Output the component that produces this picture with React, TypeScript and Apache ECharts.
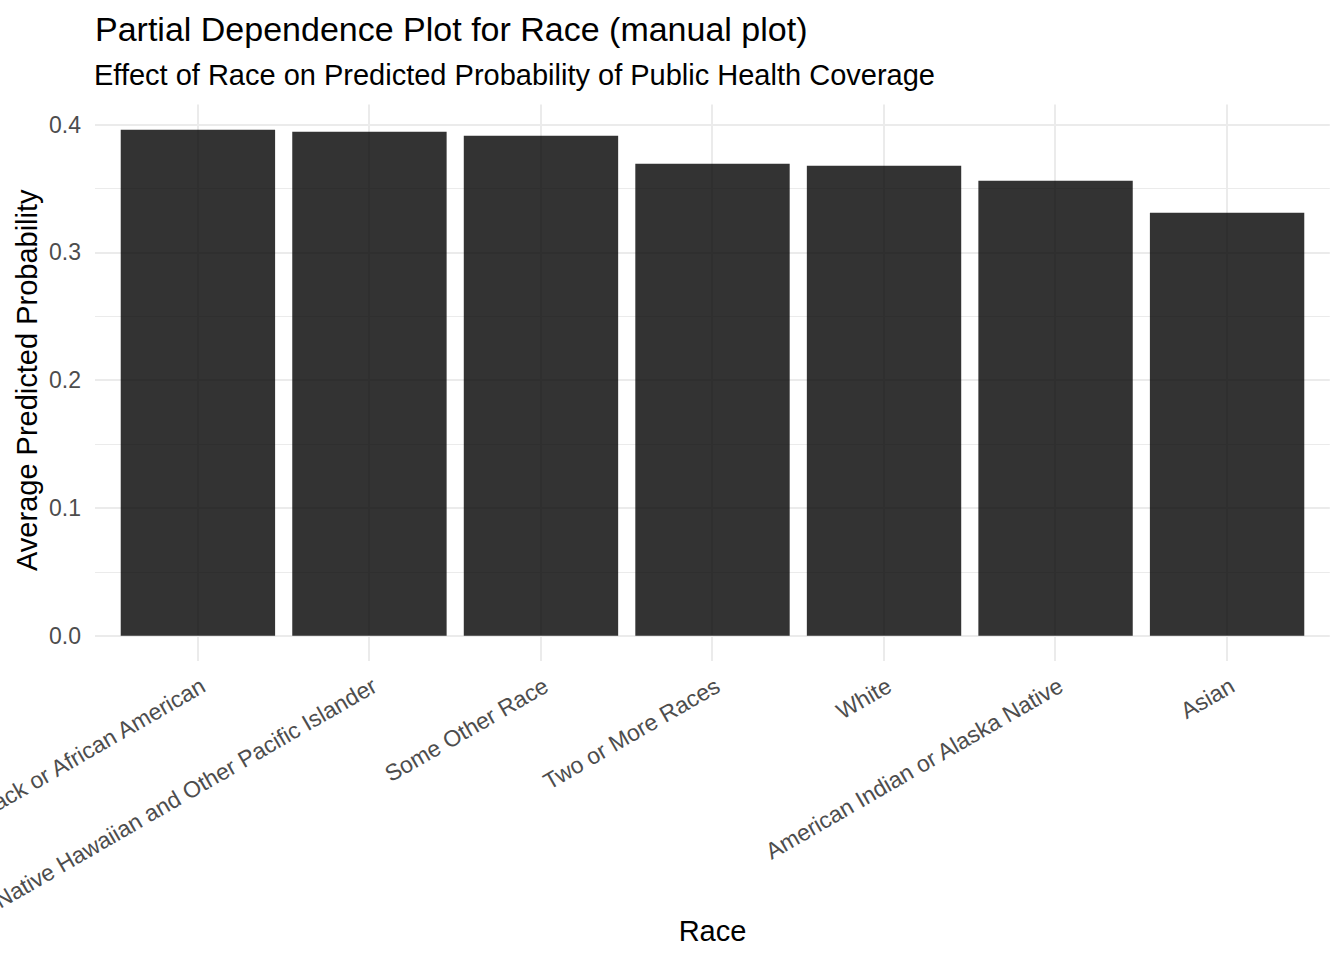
import { useEffect, useRef } from 'react'
import * as echarts from 'echarts'

// race categories, ordered as in the plot
const races = [
  'Black or African American',
  'Native Hawaiian and Other Pacific Islander',
  'Some Other Race',
  'Two or More Races',
  'White',
  'American Indian or Alaska Native',
  'Asian',
]

// average predicted probability of public coverage
const avgProb = [0.396, 0.3944, 0.3913, 0.3694, 0.3678, 0.3561, 0.331]

const yTicks = [0, 0.1, 0.2, 0.3, 0.4]

const FONT = 'Liberation Sans, Arial, sans-serif'
const GRID_COLOR = '#ebebeb'

export default function App() {
  const chartRef = useRef<HTMLDivElement>(null)

  useEffect(() => {
    if (!chartRef.current) return
    const chart = echarts.init(chartRef.current, null, { renderer: 'svg' })

    const option = {
      animation: false,
      backgroundColor: '#ffffff',
      textStyle: { fontFamily: FONT },
      title: [
        {
          text: 'Partial Dependence Plot for Race (manual plot)',
          left: 90,
          top: 7,
          textStyle: { fontSize: 34, fontWeight: 'normal', color: '#000000', fontFamily: FONT },
        },
        {
          text: 'Effect of Race on Predicted Probability of Public Health Coverage',
          left: 89,
          top: 55,
          textStyle: { fontSize: 29, fontWeight: 'normal', color: '#000000', fontFamily: FONT },
        },
      ],
      grid: [
        // bars
        { left: 112.15, right: 31.15, top: 124.7, bottom: 324.3, outerBoundsMode: 'none' },
        // vertical grid lines at category centres
        { left: 197.5, right: 117.5, top: 104.5, bottom: 299, outerBoundsMode: 'none' },
        // horizontal grid lines across the whole panel
        { left: 95, right: 14.2, top: 124.7, bottom: 324.3, outerBoundsMode: 'none' },
      ],
      xAxis: [
        {
          type: 'category',
          gridIndex: 0,
          data: races,
          axisLine: { show: false },
          axisTick: { show: false },
          splitLine: { show: false },
          axisLabel: {
            interval: 0,
            rotate: 30,
            margin: 51,
            fontSize: 23,
            color: '#4d4d4d',
            fontFamily: FONT,
            padding: [0, -6, 0, 0],
          },
          name: 'Race',
          nameLocation: 'middle',
          nameGap: 281,
          nameMoveOverlap: false,
          nameTextStyle: { fontSize: 29, color: '#000000', fontFamily: FONT },
        },
        {
          type: 'value',
          gridIndex: 1,
          min: 0,
          max: races.length - 1,
          interval: 1,
          axisLine: { show: false },
          axisTick: { show: false },
          axisLabel: { show: false },
          splitLine: { show: true, lineStyle: { color: GRID_COLOR, width: 2 } },
        },
        {
          type: 'value',
          gridIndex: 2,
          show: false,
        },
      ],
      yAxis: [
        {
          type: 'value',
          gridIndex: 0,
          min: 0,
          max: 0.4,
          show: false,
        },
        {
          type: 'value',
          gridIndex: 1,
          show: false,
        },
        {
          type: 'value',
          gridIndex: 2,
          min: yTicks[0],
          max: yTicks[yTicks.length - 1],
          interval: 0.1,
          axisLine: { show: false },
          axisTick: { show: false },
          axisLabel: {
            margin: 14,
            fontSize: 23,
            color: '#4d4d4d',
            fontFamily: FONT,
            formatter: (v: number) => v.toFixed(1),
          },
          splitLine: { show: true, lineStyle: { color: GRID_COLOR, width: 2 } },
          minorTick: { show: false, splitNumber: 2 },
          minorSplitLine: { show: true, lineStyle: { color: GRID_COLOR, width: 1 } },
          name: 'Average Predicted Probability',
          nameLocation: 'middle',
          nameGap: 54,
          nameMoveOverlap: false,
          nameTextStyle: { fontSize: 29, color: '#000000', fontFamily: FONT },
        },
      ],
      series: [
        {
          type: 'bar',
          xAxisIndex: 0,
          yAxisIndex: 0,
          data: avgProb,
          barCategoryGap: '10%',
          itemStyle: { color: 'rgba(0,0,0,0.8)' },
          z: 5,
        },
      ],
    }

    chart.setOption(option)

    return () => {
      chart.dispose()
    }
  }, [])

  return (
    <div
      ref={chartRef}
      style={{ position: 'absolute', left: 0, top: 0, width: '1344px', height: '960px' }}
    />
  )
}
